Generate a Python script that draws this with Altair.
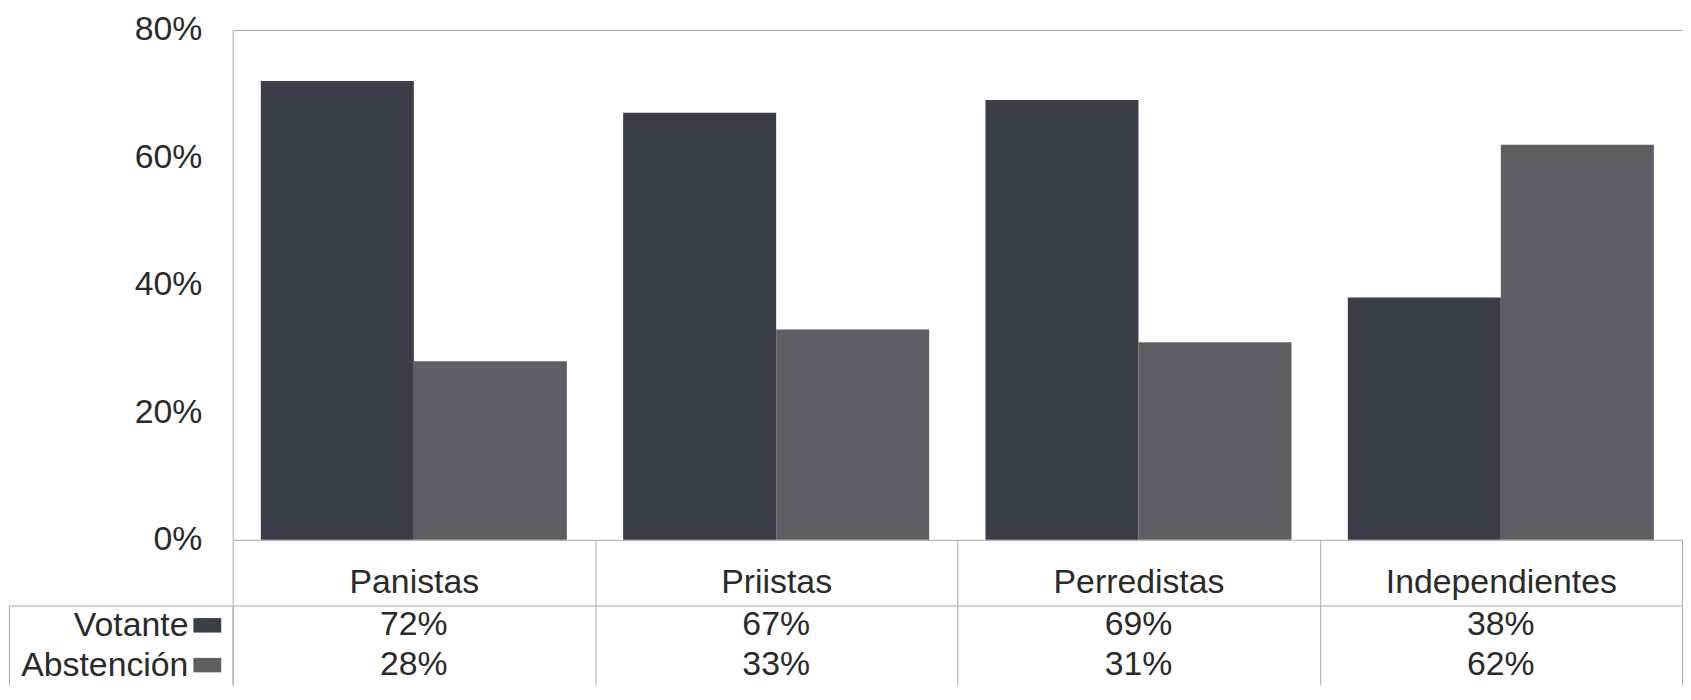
import altair as alt
import pandas as pd

categories = ["Panistas", "Priistas", "Perredistas", "Independientes"]
series = ["Votante", "Abstención"]
votante = [0.72, 0.67, 0.69, 0.38]
abstencion = [0.28, 0.33, 0.31, 0.62]
y_ticks = [0, 0.2, 0.4, 0.6, 0.8]
colors = ["#3a3e48", "#5d5f64"]

rows = []
for i, c in enumerate(categories):
    rows.append({"cat": c, "series": "Votante", "value": votante[i]})
    rows.append({"cat": c, "series": "Abstención", "value": abstencion[i]})
df = pd.DataFrame(rows)

FONT = "Liberation Sans"
FS = 34
TXT = "#2a2a2a"
LINE = "#a8a8a8"
W = 1458
TH = 80  # table height (two rows)

color_enc = alt.Color("series:N", scale=alt.Scale(domain=series, range=colors), legend=None)

bars = alt.Chart(df).mark_bar().encode(
    x=alt.X("cat:N", sort=categories, title=None,
            scale=alt.Scale(paddingInner=0, paddingOuter=0),
            axis=alt.Axis(labelFont=FONT, labelFontSize=FS, labelColor=TXT, labelAngle=0,
                          labelPadding=-39, tickSize=65, tickBand="extent", tickColor=LINE,
                          domainColor=LINE, grid=False, labelOverlap=False, labelLimit=600)),
    xOffset=alt.XOffset("series:N", sort=series,
                        scale=alt.Scale(paddingInner=0, paddingOuter=0.184)),
    y=alt.Y("value:Q", title=None,
            scale=alt.Scale(domain=[0, 0.8], nice=False),
            axis=alt.Axis(values=y_ticks, format=".0%", labelFont=FONT, labelFontSize=FS,
                          labelColor=TXT, labelPadding=31, ticks=False, domainColor=LINE,
                          grid=True, gridColor=LINE,
                          gridOpacity={"condition": {"test": "datum.value > 0.79", "value": 1}, "value": 0})),
    color=color_enc,
).properties(width=W, height=513, view=alt.ViewBackground(stroke="transparent", strokeWidth=0))

# value cells; their y axis carries the row labels and the table's left border
cells = alt.Chart(df).mark_text(font=FONT, fontSize=FS, color=TXT, baseline="middle").encode(
    x=alt.X("cat:N", sort=categories, title=None,
            scale=alt.Scale(paddingInner=0, paddingOuter=0),
            axis=alt.Axis(labels=False, ticks=False, domain=False, grid=True,
                          tickBand="extent", gridColor=LINE)),
    y=alt.Y("series:N", sort=series, title=None,
            scale=alt.Scale(paddingInner=0, paddingOuter=0),
            axis=alt.Axis(orient="left", offset=225, labelFont=FONT, labelFontSize=FS,
                          labelColor=TXT, labelPadding=-180, ticks=False, grid=False,
                          domain=True, domainColor=LINE, labelOverlap=False, labelLimit=600)),
    text=alt.Text("value:Q", format=".0%"),
)

# legend swatches; their y axis draws the line on top of the first row
swatches = alt.Chart(pd.DataFrame({"series": series})).mark_point(
    shape="M-1,-0.52H1V0.52H-1Z", filled=True, opacity=1, size=784
).encode(
    x=alt.value(-25.5),
    y=alt.Y("series:N", sort=series, title=None,
            scale=alt.Scale(paddingInner=0, paddingOuter=0),
            axis=alt.Axis(orient="left", values=["Votante"], tickOffset=-TH / 4,
                          labels=False, ticks=True, tickSize=225, tickColor=LINE,
                          grid=True, gridColor=LINE, domain=True, domainColor=LINE)),
    color=color_enc,
)

table = alt.layer(cells, swatches).resolve_scale(y="independent").resolve_axis(
    y="independent").properties(width=W, height=TH,
                                view=alt.ViewBackground(stroke="transparent", strokeWidth=0))

chart = alt.vconcat(bars, table, spacing=-19).properties(
    padding={"left": 0, "top": 3, "right": 0, "bottom": 0}
).configure_view(stroke=None, strokeWidth=0).configure(background="white")

chart.save("out.html", embed_options={"renderer": "svg", "actions": False})
